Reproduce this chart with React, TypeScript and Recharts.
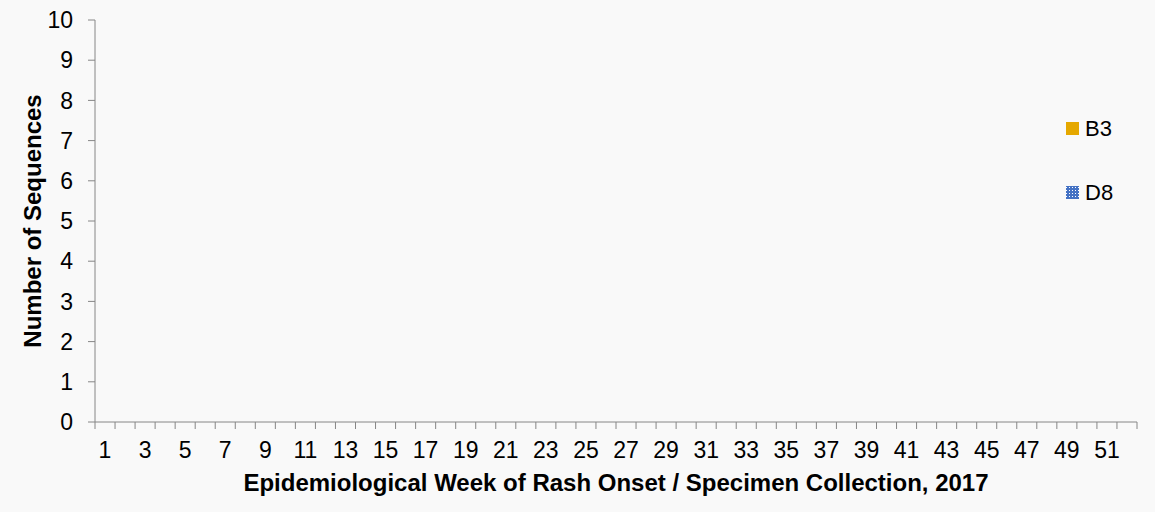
import { BarChart, Bar, XAxis, YAxis, Label } from 'recharts';

// Weekly counts of measles genotype sequences, 2017 (no sequences reported)
const weeks: number[] = Array.from({ length: 52 }, (_, i) => i + 1);
const b3Counts: number[] = [
    0, 0, 0, 0, 0, 0, 0, 0, 0, 0, 0, 0, 0, 0, 0, 0, 0, 0, 0, 0, 0, 0, 0, 0, 0, 0,
    0, 0, 0, 0, 0, 0, 0, 0, 0, 0, 0, 0, 0, 0, 0, 0, 0, 0, 0, 0, 0, 0, 0, 0, 0, 0,
];
const d8Counts: number[] = [
    0, 0, 0, 0, 0, 0, 0, 0, 0, 0, 0, 0, 0, 0, 0, 0, 0, 0, 0, 0, 0, 0, 0, 0, 0, 0,
    0, 0, 0, 0, 0, 0, 0, 0, 0, 0, 0, 0, 0, 0, 0, 0, 0, 0, 0, 0, 0, 0, 0, 0, 0, 0,
];
const yTicks: number[] = [0, 1, 2, 3, 4, 5, 6, 7, 8, 9, 10];

const data = weeks.map((w, i) => ({ week: w, B3: b3Counts[i], D8: d8Counts[i] }));

const FONT = 'Arial, "Liberation Sans", sans-serif';
const AXIS_GRAY = '#868686';
const B3_COLOR = '#E5A800';
const D8_COLOR = '#4472C4';

// Ticks sit on the band boundaries; only odd weeks get a label.
function WeekTick(props: any) {
    const { x, y, payload, index, visibleTicksCount } = props;
    const bw = 1042 / 52;
    const left = x - bw / 2;
    const isLast = index === (visibleTicksCount ?? 52) - 1;
    return (
        <g>
            <line x1={left} x2={left} y1={y - 8} y2={y - 1} stroke={AXIS_GRAY} />
            {isLast && (
                <line x1={x + bw / 2} x2={x + bw / 2} y1={y - 8} y2={y - 1} stroke={AXIS_GRAY} />
            )}
            {payload.value % 2 === 1 && (
                <text
                    x={x}
                    y={y + 28}
                    textAnchor="middle"
                    fontSize={23}
                    fontFamily={FONT}
                    fill="#000"
                >
                    {payload.value}
                </text>
            )}
        </g>
    );
}

function SideLegend() {
    const items = [
        { name: 'B3', fill: B3_COLOR, top: 122 },
        { name: 'D8', fill: 'url(#d8dots)', top: 186 },
    ];
    return (
        <g>
            {items.map((it) => (
                <g key={it.name}>
                    <rect x={1066} y={it.top} width={13} height={13} fill={it.fill} />
                    <text
                        x={1085}
                        y={it.top + 14}
                        fontSize={22}
                        fontFamily={FONT}
                        fill="#000"
                    >
                        {it.name}
                    </text>
                </g>
            ))}
        </g>
    );
}

export default function App() {
    return (
        <div style={{ position: 'absolute', left: 0, top: 0, width: 1155, height: 512, background: '#f9f9f9' }}>
            <BarChart
                width={1155}
                height={512}
                data={data}
                margin={{ top: 20, right: 18, bottom: 30, left: 40 }}
                barCategoryGap="20%"
            >
                <defs>
                    <pattern id="d8dots" width="3" height="3" patternUnits="userSpaceOnUse">
                        <rect width="3" height="3" fill={D8_COLOR} />
                        <rect x="1" y="1" width="1" height="1" fill="#ffffff" />
                    </pattern>
                </defs>
                <XAxis
                    dataKey="week"
                    interval={0}
                    height={60}
                    tickLine={false}
                    axisLine={{ stroke: AXIS_GRAY }}
                    tick={<WeekTick />}
                >
                    <Label
                        value="Epidemiological Week of Rash Onset / Specimen Collection, 2017"
                        position="insideBottom"
                        offset={-9}
                        style={{ fontSize: 24, fontWeight: 700, fontFamily: FONT, fill: '#000' }}
                    />
                </XAxis>
                <YAxis
                    domain={[0, 10]}
                    ticks={yTicks}
                    interval={0}
                    width={55}
                    tickSize={7}
                    tickMargin={15}
                    axisLine={{ stroke: AXIS_GRAY }}
                    tickLine={{ stroke: AXIS_GRAY }}
                    tick={{ fontSize: 23, fontFamily: FONT, fill: '#000' }}
                >
                    <Label
                        value="Number of Sequences"
                        angle={-90}
                        position="insideLeft"
                        offset={-8}
                        style={{ fontSize: 24, fontWeight: 700, fontFamily: FONT, fill: '#000', textAnchor: 'middle' }}
                    />
                </YAxis>
                <Bar dataKey="B3" stackId="a" fill={B3_COLOR} isAnimationActive={false} />
                <Bar dataKey="D8" stackId="a" fill="url(#d8dots)" isAnimationActive={false} />
                <SideLegend />
            </BarChart>
        </div>
    );
}
